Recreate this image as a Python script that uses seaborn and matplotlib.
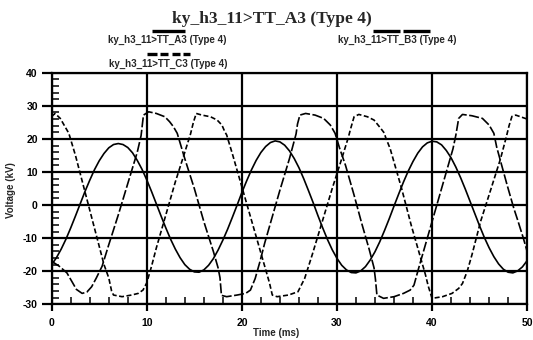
import numpy as np
import pandas as pd
import matplotlib
matplotlib.use("Agg")
import matplotlib.pyplot as plt
import seaborn as sns
from matplotlib.lines import Line2D
from matplotlib.ticker import MultipleLocator

# ---------------- data ----------------
title = "ky_h3_11>TT_A3 (Type 4)"
series_names = ["ky_h3_11>TT_A3 (Type 4)", "ky_h3_11>TT_B3 (Type 4)", "ky_h3_11>TT_C3 (Type 4)"]
x_label = "Time (ms)"
y_label = "Voltage (kV)"
x_ticks = [0, 10, 20, 30, 40, 50]
y_ticks = [-30, -20, -10, 0, 10, 20, 30, 40]

time_a = [0, 0.5, 1, 1.5, 2, 2.5, 3, 3.5, 4, 4.5, 5, 5.5, 6, 6.5, 7, 7.5, 8, 8.5, 9, 9.5,
          10, 10.5, 11, 11.5, 12, 12.5, 13, 13.5, 14, 14.5, 15, 15.5, 16, 16.5, 17, 17.5, 18, 18.5, 19, 19.5,
          20, 20.5, 21, 21.5, 22, 22.5, 23, 23.5, 24, 24.5, 25, 25.5, 26, 26.5, 27, 27.5, 28, 28.5, 29, 29.5,
          30, 30.5, 31, 31.5, 32, 32.5, 33, 33.5, 34, 34.5, 35, 35.5, 36, 36.5, 37, 37.5, 38, 38.5, 39, 39.5,
          40, 40.5, 41, 41.5, 42, 42.5, 43, 43.5, 44, 44.5, 45, 45.5, 46, 46.5, 47, 47.5, 48, 48.5, 49, 49.5, 50]
volt_a = [-18.0, -15.9, -13.3, -10.3, -6.9, -3.3, 0.4, 4.1, 7.5, 10.7, 13.4, 15.6, 17.3, 18.3, 18.6, 18.3, 17.4, 15.8, 13.5, 10.8,
          7.6, 4.1, 0.4, -3.3, -6.9, -10.3, -13.3, -15.9, -18.0, -19.4, -20.2, -20.3, -19.6, -18.2, -16.2, -13.6, -10.6, -7.3, -3.7, 0.0,
          3.8, 7.3, 10.6, 13.5, 15.9, 17.7, 18.9, 19.4, 19.1, 18.1, 16.4, 14.1, 11.3, 8.0, 4.4, 0.7, -3.2, -6.9, -10.4, -13.5,
          -16.1, -18.2, -19.6, -20.4, -20.5, -19.9, -18.6, -16.6, -14.1, -11.1, -7.7, -4.1, -0.3, 3.4, 7.0, 10.3, 13.2, 15.7, 17.6, 18.8,
          19.3, 19.1, 18.2, 16.5, 14.3, 11.5, 8.3, 4.8, 1.1, -2.6, -6.3, -9.8, -12.9, -15.6, -17.8, -19.4, -20.3, -20.5, -19.9, -18.7, -16.8]

time_b = [0, 0.8, 1.6, 2.1, 2.6, 3.2, 3.7, 4.2, 4.7, 5.3, 6, 7, 8, 9, 9.4, 9.65, 10.2, 11.0, 11.9, 12.4,
          12.8, 13.2, 14, 15, 16, 17, 17.5, 17.7, 17.85, 18.4, 19.5, 20.4, 20.9, 21.4, 21.9, 22.4, 23, 24, 25, 25.7,
          25.85, 26.1, 26.7, 27.7, 28.6, 29.3, 29.6, 29.8, 30.3, 30.9, 31.8, 32.6, 33.4, 33.9, 34.05, 34.2, 34.9, 36, 37, 37.7,
          38.1, 38.6, 39.3, 40.3, 41.3, 42.2, 42.5, 42.8, 43.2, 44.2, 45.3, 46, 46.3, 46.5, 46.8, 47.9, 48.6, 49, 49.6, 50]
volt_b = [-17, -18.5, -20.5, -23, -25.5, -26.7, -26.3, -24.7, -22, -18.5, -12, -3, 6.5, 16, 21, 27.2, 28.2, 27.7, 26.7, 25.2,
          23.7, 21.7, 14, 5, -5, -14, -19, -22, -27.3, -27.7, -27.2, -26.7, -25.7, -22.2, -17.1, -11.5, -5.5, 4.5, 14, 21.5,
          24.5, 27.2, 27.7, 27.2, 26.2, 24.2, 22.7, 21.7, 17, 12, 3, -5.5, -13.5, -19, -22.5, -27.2, -28.2, -27.7, -26.7, -25.7,
          -24.2, -19, -12, -2, 8, 17, 21.1, 26.2, 27.4, 27, 26.2, 24.2, 22.7, 21.7, 17.5, 6, -1, -4.5, -10, -14]

time_c = [0, 0.35, 0.9, 1.2, 1.6, 1.8, 2.5, 3.5, 4.5, 5.5, 6.0, 6.3, 6.5, 7.4, 8.4, 9.1, 9.6, 10, 10.5, 11,
          12, 13, 14, 14.6, 14.9, 15.2, 15.8, 16.7, 17.4, 17.9, 18.2, 18.4, 19, 20, 21, 22, 22.6, 22.9, 23.2, 23.7,
          24.9, 25.9, 26.6, 27.4, 28.4, 29.5, 30.5, 31.2, 31.4, 31.8, 32.3, 33.2, 33.9, 34.6, 35.0, 35.1, 35.6, 36.8, 37.8, 38.6,
          39.3, 39.6, 40, 41.1, 42.1, 42.8, 43.2, 43.7, 44.2, 45.1, 46.1, 47.2, 47.8, 48.1, 48.4, 48.8, 49.3, 50]
volt_c = [26.8, 27.7, 26.2, 24.7, 22.7, 21.7, 15, 4, -7, -18, -22, -26, -27.2, -27.7, -27.2, -26.7, -25.7, -23.5, -18.5, -13,
          -3, 7, 16, 21.5, 25, 27.7, 27.2, 26.7, 25.7, 24.2, 22.2, 21.2, 15.5, 5.5, -4.5, -14.5, -20.5, -23.5, -27.2, -27.7,
          -27.2, -26.2, -22.2, -15, -5.5, 5, 14, 20.5, 22.7, 26.7, 27.4, 26.7, 25.7, 23.2, 21.7, 20.6, 17, 5, -6, -14,
          -21, -24.5, -28.2, -27.7, -26.7, -25.2, -23.7, -20, -15, -5, 4, 14, 20.5, 24, 26.8, 27.2, 26.7, 26]

# ---------------- style ----------------
sns.set_theme(style="white")
plt.rcParams['font.family'] = ['Liberation Sans', 'DejaVu Sans']
plt.rcParams['font.weight'] = 'bold'
plt.rcParams['axes.unicode_minus'] = False

df = pd.concat([
    pd.DataFrame({"Time": time_a, "Voltage": volt_a, "Series": series_names[0]}),
    pd.DataFrame({"Time": time_b, "Voltage": volt_b, "Series": series_names[1]}),
    pd.DataFrame({"Time": time_c, "Voltage": volt_c, "Series": series_names[2]}),
], ignore_index=True)

fig = plt.figure(figsize=(5.33, 3.40), dpi=100)
ax = fig.add_axes([0.097, 0.105, 0.892, 0.681])

palette = {n: "black" for n in series_names}
dashes = {series_names[0]: "", series_names[1]: (6, 1.5), series_names[2]: (3, 1.5)}
sns.lineplot(data=df, x="Time", y="Voltage", hue="Series", style="Series",
             palette=palette, dashes=dashes, sort=False, estimator=None,
             legend=False, linewidth=1.2, ax=ax)

ax.set_xlim(0, 50)
ax.set_ylim(-30, 40)
ax.set_xticks(x_ticks)
ax.set_yticks(y_ticks)
ax.xaxis.set_minor_locator(MultipleLocator(2))
ax.yaxis.set_minor_locator(MultipleLocator(2))
ax.grid(True, which="major", color="black", linewidth=1.6)
ax.set_axisbelow(False)
for s in ax.spines.values():
    s.set_color("black")
    s.set_linewidth(1.6)
ax.tick_params(axis="x", which="major", direction="out", length=5, width=1.6,
               labelsize=7.5, pad=5, bottom=True, colors="black")
ax.tick_params(axis="y", which="major", direction="out", length=7, width=1.6,
               labelsize=7.5, pad=3, left=True, colors="black")
ax.tick_params(axis="both", which="minor", direction="in", length=5, width=1.1,
               bottom=True, left=True, colors="black")
ax.set_xlabel("")
ax.set_ylabel("")

fig.text(276 / 533, 1 - 333 / 340, x_label, ha="center", va="center",
         fontsize=7, fontweight="bold")
fig.text(11 / 533, 1 - 190 / 340, y_label, ha="center", va="center",
         rotation=90, fontsize=7, fontweight="bold")

fig.text(272 / 533, 1 - 19 / 340, title, ha="center", va="center",
         family=["Liberation Serif", "DejaVu Serif"], fontsize=12.5, fontweight="bold")

# custom legend (line samples above labels)
def seg(x0, x1, y, lw):
    fig.add_artist(Line2D([x0 / 533, x1 / 533], [1 - y / 340, 1 - y / 340],
                          color="black", linewidth=lw, solid_capstyle="butt"))

seg(152, 185, 30.5, 2.4)
fig.text(167 / 533, 1 - 40 / 340, series_names[0], ha="center", va="center", fontsize=7)
for a, b in [(373, 400), (403, 430)]:
    seg(a, b, 30.5, 2.4)
fig.text(397 / 533, 1 - 40 / 340, series_names[1], ha="center", va="center", fontsize=7)
for a, b in [(147, 157), (160, 168), (172, 180), (183, 190)]:
    seg(a, b, 53.5, 2.4)
fig.text(168 / 533, 1 - 63.5 / 340, series_names[2], ha="center", va="center", fontsize=7)

fig.savefig("out.png", dpi=100)
